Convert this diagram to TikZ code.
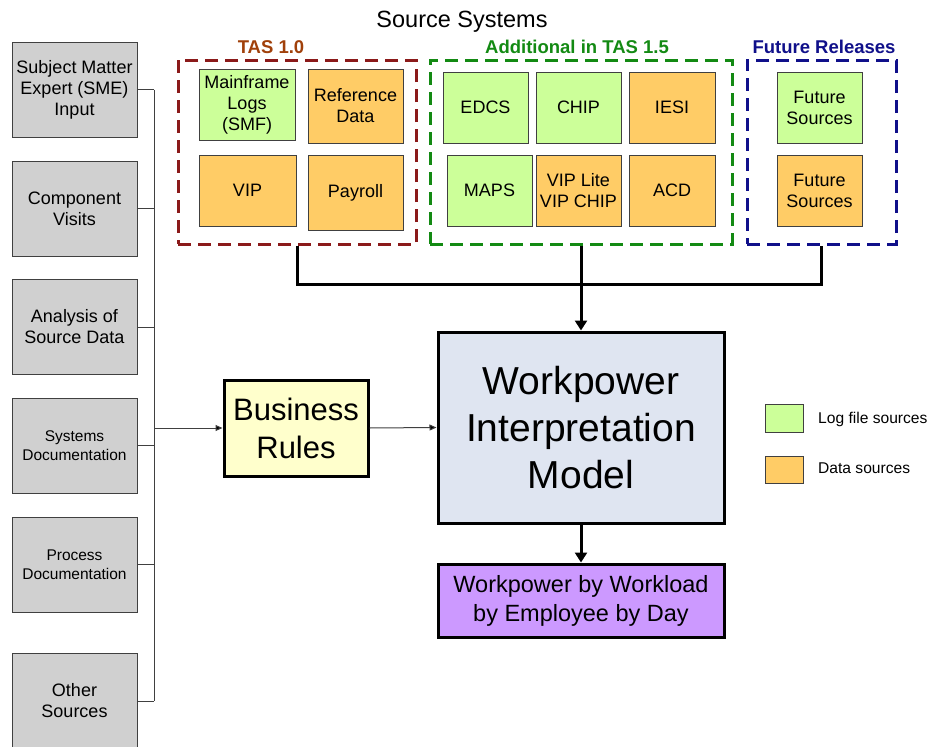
\documentclass[tikz,border=0pt]{standalone}
\usepackage{fontspec}
\setmainfont{Liberation Sans}
\usetikzlibrary{arrows.meta}
\definecolor{grayfill}{HTML}{D0D0D0}
\definecolor{logg}{HTML}{CCFF99}
\definecolor{datao}{HTML}{FFCC66}
\definecolor{brfill}{HTML}{FFFFCC}
\definecolor{wimfill}{HTML}{DFE5F1}
\definecolor{outfill}{HTML}{CC99FF}
\definecolor{tasred}{HTML}{8B1A1A}
\definecolor{taslab}{HTML}{A0400A}
\definecolor{tasgreen}{HTML}{138A13}
\definecolor{tasnavy}{HTML}{10108A}
\definecolor{edge}{HTML}{404040}
\tikzset{
  inbox/.style={draw=edge, line width=1pt, align=center, inner sep=0pt, font=\fontsize{18}{21}\selectfont},
  graybox/.style={inbox, fill=grayfill, minimum width=125pt, minimum height=95pt},
  logbox/.style={inbox, fill=logg},
  databox/.style={inbox, fill=datao},
  bigbox/.style={draw=black, line width=3pt, align=center, inner sep=0pt},
  grp/.style={line width=3pt, dash pattern=on 13pt off 7pt},
  conn/.style={draw=edge, line width=1pt},
  thinarrow/.style={conn, -{Triangle[length=7pt,width=6pt,fill=black]}},
  thickarrow/.style={draw=black, line width=3pt, -{Triangle[length=10pt,width=12pt]}},
  grplab/.style={font=\bfseries\fontsize{18.5}{22}\selectfont},
  legtext/.style={anchor=west, inner sep=0pt, font=\fontsize{15.6}{18}\selectfont}
}
\begin{document}
\begin{tikzpicture}[x=1pt,y=-1pt]
\useasboundingbox (0,0) rectangle (930,747);
% title
\node (title) at (462,22) {\fontsize{23.5}{28}\selectfont Source Systems};
% groups
\node[grp, draw=tasred, minimum width=238pt, minimum height=184pt] (tas10) at (297,152) {};
\node[grp, draw=tasgreen, minimum width=302pt, minimum height=184pt] (tas15) at (581,152) {};
\node[grp, draw=tasnavy, minimum width=149pt, minimum height=184pt] (fut) at (821.5,152) {};
\node[grplab, text=taslab] (l10) at (271,47) {TAS 1.0};
\node[grplab, text=tasgreen] (l15) at (577,47) {Additional in TAS 1.5};
\node[grplab, text=tasnavy] (lfut) at (824,47) {Future Releases};
% inner boxes
\node[logbox, minimum width=96pt, minimum height=71pt] (mf) at (247,104.5) {Mainframe\\Logs\\(SMF)};
\node[databox, minimum width=95pt, minimum height=74pt] (ref) at (355.5,106) {Reference\\Data};
\node[databox, minimum width=97pt, minimum height=71pt] (vip) at (247.5,190.5) {VIP};
\node[databox, minimum width=95pt, minimum height=75pt] (pay) at (355.5,192.5) {Payroll};
\node[logbox, minimum width=85pt, minimum height=71pt] (edcs) at (485.5,107.5) {EDCS};
\node[logbox, minimum width=85pt, minimum height=71pt] (chip) at (578.5,107.5) {CHIP};
\node[databox, minimum width=86pt, minimum height=71pt] (iesi) at (672,107.5) {IESI};
\node[logbox, minimum width=85pt, minimum height=71pt] (maps) at (489.5,190.5) {MAPS};
\node[databox, minimum width=85pt, minimum height=71pt] (vipl) at (578.5,190.5) {VIP Lite\\VIP CHIP};
\node[databox, minimum width=86pt, minimum height=71pt] (acd) at (672,190.5) {ACD};
\node[logbox, minimum width=85pt, minimum height=71pt] (fs1) at (819.5,107.5) {Future\\Sources};
\node[databox, minimum width=85pt, minimum height=71pt] (fs2) at (819.5,190.5) {Future\\Sources};
% left inputs
\node[graybox] (g1) at (74.5,89.5) {Subject Matter\\Expert (SME)\\Input};
\node[graybox] (g2) at (74.5,208.5) {Component\\Visits};
\node[graybox] (g3) at (74.5,327) {Analysis of\\Source Data};
\node[graybox, font=\fontsize{15.5}{18.7}\selectfont] (g4) at (74.5,445.5) {Systems\\Documentation};
\node[graybox, font=\fontsize{15.5}{18.7}\selectfont] (g5) at (74.5,564.5) {Process\\Documentation};
\node[graybox] (g6) at (74.5,701) {Other\\Sources};
% central boxes
\node[bigbox, fill=brfill, minimum width=144pt, minimum height=96pt, font=\fontsize{31}{38}\selectfont] (br) at (296,428) {Business\\Rules};
\node[bigbox, fill=wimfill, minimum width=286pt, minimum height=191pt, font=\fontsize{39}{47}\selectfont] (wim) at (581,427.5) {Workpower\\Interpretation\\Model};
\node[bigbox, fill=outfill, minimum width=286pt, minimum height=73pt, font=\fontsize{23.5}{29}\selectfont] (out) at (581,600.5) {Workpower by Workload\\by Employee by Day};
% legend
\node[inbox, fill=logg, minimum width=38pt, minimum height=28pt] (lg1) at (784,418) {};
\node[legtext] (lt1) at (818,419) {Log file sources};
\node[inbox, fill=datao, minimum width=38pt, minimum height=27pt] (lg2) at (784,469.5) {};
\node[legtext] (lt2) at (818,468) {Data sources};
% left bus
\coordinate (bx) at (154,0);
\foreach \g in {g1,g2,g3,g4,g5,g6} {
  \draw[conn] (\g.east) -- (\g.east -| bx);
}
\draw[conn] (g1.east -| bx) -- (g6.east -| bx);
\draw[thinarrow] (br.west -| bx) -- (br.west);
\draw[thinarrow] (br.east) -- (wim.west);
% top collector
\coordinate (jy) at (0,284);
\draw[black, line width=3pt] (tas10.south) -- (tas10.south |- jy) -- (fut.south |- jy) -- (fut.south);
\draw[thickarrow] (tas15.south) -- (wim.north);
\draw[thickarrow] (wim.south) -- (out.north);
\end{tikzpicture}
\end{document}
